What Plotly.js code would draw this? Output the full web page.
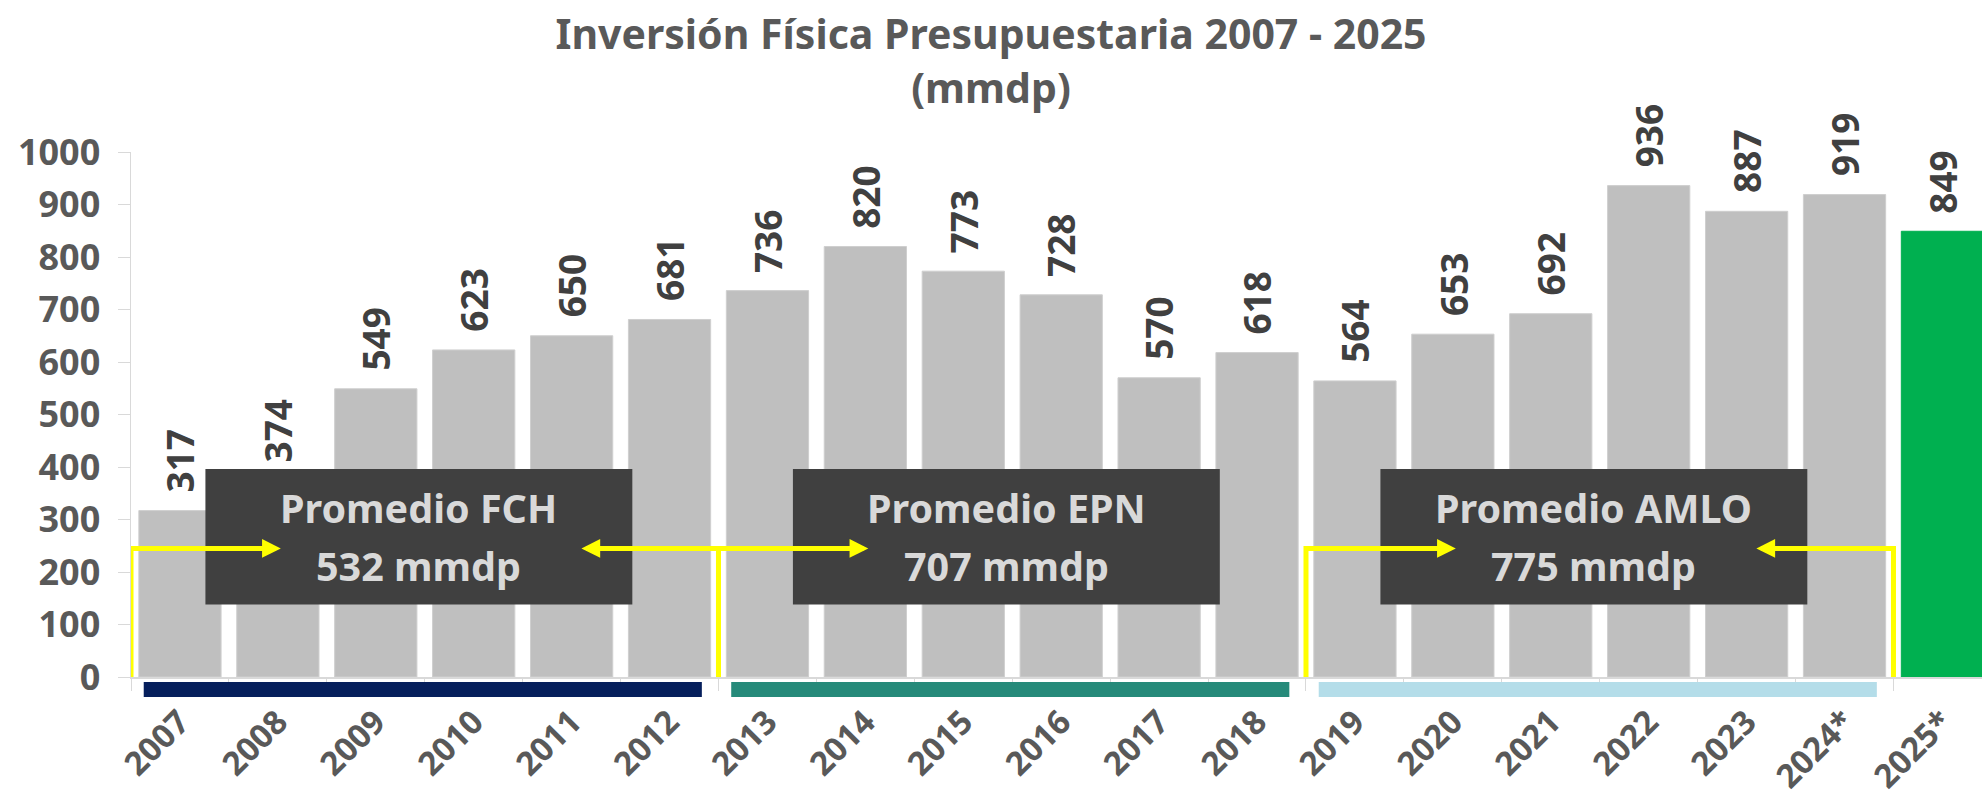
<!DOCTYPE html>
<html>
<head>
<meta charset="utf-8">
<script src="https://cdn.plot.ly/plotly-3.0.1.min.js"></script>
<style>
  html, body { margin: 0; padding: 0; background: #fff; }
  #plot { width: 1982px; height: 797px; }
</style>
</head>
<body>
<div id="plot"></div>
<script>
// Inversión física presupuestaria, mmdp
let years = ['2007', '2008', '2009', '2010', '2011', '2012', '2013', '2014', '2015', '2016',
             '2017', '2018', '2019', '2020', '2021', '2022', '2023', '2024*', '2025*'];
let values = [317, 374, 549, 623, 650, 681, 736, 820, 773, 728,
              570, 618, 564, 653, 692, 936, 887, 919, 849];

// Sexenios and their averages
let periodNames = ['FCH', 'EPN', 'AMLO'];
let periodFirst = ['2007', '2013', '2019'];
let periodLast = ['2012', '2018', '2024*'];
let periodAvg = [532, 707, 775];
let periodRightArrow = [true, false, true];

let periodColors = ['#061F5C', '#268A7A', '#B4DDE9'];
let textFont = 'Noto Sans';
let yellow = '#FFFF00';

let barColors = years.map(y => y === '2025*' ? '#00B050' : '#BFBFBF');
let barLines = years.map(y => y === '2025*' ? '#00B050' : '#CFCFCF');

let trace = {
    type: 'bar',
    x: years,
    y: values,
    marker: {color: barColors, line: {color: barLines, width: 1}},
    hoverinfo: 'skip'
};

// value labels over each bar (x given as category index, "2007" would be read as a number)
let annotations = years.map((y, i) => ({
    x: i, y: values[i], xref: 'x', yref: 'y',
    text: String(values[i]),
    textangle: -90,
    showarrow: false,
    yanchor: 'bottom',
    yshift: 16,
    font: {family: textFont, size: 37, color: '#404040', weight: 700}
}));

let shapes = [];
let bracketY = 245;
let boxBottom = 138, boxTop = 396;

periodNames.forEach((name, p) => {
    let first = years.indexOf(periodFirst[p]);
    let last = years.indexOf(periodLast[p]);
    let mid = (first + last) / 2 - 0.06;

    // colored strip under the axis
    shapes.push({
        type: 'rect', xref: 'x', yref: 'paper',
        x0: first - 0.37, x1: last + 0.33, y0: -0.0095, y1: -0.038,
        fillcolor: periodColors[p], line: {width: 0}, layer: 'above'
    });

    // dark box
    shapes.push({
        type: 'rect', xref: 'x', yref: 'y',
        x0: mid - 2.18, x1: mid + 2.18, y0: boxBottom, y1: boxTop,
        fillcolor: '#404040', line: {width: 0}, layer: 'above'
    });

    let centerY = (boxBottom + boxTop) / 2;
    annotations.push({
        x: mid, y: centerY + 55, xref: 'x', yref: 'y', showarrow: false,
        text: 'Promedio ' + name,
        font: {family: textFont, size: 39.5, color: '#D9D9D9', weight: 700}
    });
    annotations.push({
        x: mid, y: centerY - 55, xref: 'x', yref: 'y', showarrow: false,
        text: periodAvg[p] + ' mmdp',
        font: {family: textFont, size: 39.5, color: '#D9D9D9', weight: 700}
    });

    // yellow brackets with arrows
    let sides = [[first - 0.5, first + 1.03]];
    if (periodRightArrow[p]) sides.push([last + 0.5, last - 0.9]);
    sides.forEach(([edge, tip]) => {
        let dir = tip > edge ? 1 : -1;
        shapes.push({
            type: 'path', xref: 'x', yref: 'y',
            path: 'M' + edge + ',-4 L' + edge + ',' + bracketY + ' L' + (tip - dir * 0.15) + ',' + bracketY,
            line: {color: yellow, width: 5}, layer: 'above'
        });
        annotations.push({
            x: tip, y: bracketY, xref: 'x', yref: 'y',
            ax: tip - dir * 0.5, ay: bracketY, axref: 'x', ayref: 'y',
            text: '', showarrow: true,
            arrowhead: 2, arrowsize: 0.75, arrowwidth: 5, arrowcolor: yellow,
            standoff: 0, startstandoff: 0
        });
    });
});

let layout = {
    width: 1982,
    height: 797,
    margin: {l: 131, r: 0, t: 152, b: 120},
    paper_bgcolor: '#ffffff',
    plot_bgcolor: '#ffffff',
    showlegend: false,
    bargap: 0.16,
    title: {
        text: 'Inversión Física Presupuestaria 2007 - 2025<br>(mmdp)',
        x: 0.5, xref: 'container', xanchor: 'center',
        y: 0.938, yref: 'container', yanchor: 'top',
        font: {family: textFont, size: 41, color: '#595959', weight: 700}
    },
    xaxis: {
        type: 'category',
        range: [-0.5, 18.404],
        tickangle: -45,
        tickson: 'boundaries',
        ticks: 'outside',
        ticklen: 12,
        tickcolor: '#D9D9D9',
        showline: true,
        linecolor: '#D9D9D9',
        linewidth: 1.5,
        showgrid: false,
        ticklabelstandoff: 11,
        tickfont: {family: textFont, size: 33, color: '#595959', weight: 700}
    },
    yaxis: {
        range: [0, 1000],
        dtick: 100,
        ticks: 'outside',
        ticklen: 12,
        tickcolor: '#D9D9D9',
        showline: true,
        linecolor: '#D9D9D9',
        linewidth: 1.5,
        showgrid: false,
        zeroline: false,
        ticklabelstandoff: 10,
        tickfont: {family: textFont, size: 36, color: '#595959', weight: 700}
    },
    shapes: shapes,
    annotations: annotations
};

Plotly.newPlot('plot', [trace], layout, {staticPlot: true, displayModeBar: false});
</script>
</body>
</html>
